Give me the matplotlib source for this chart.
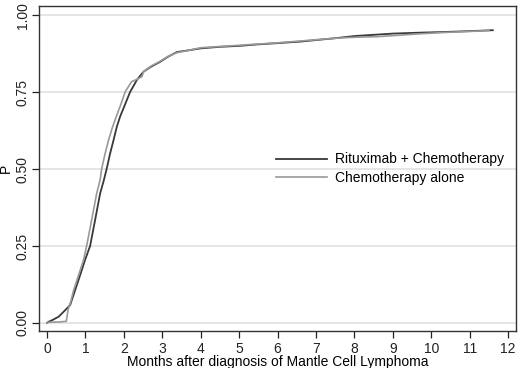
import matplotlib
matplotlib.use("Agg")
import matplotlib.pyplot as plt

# cumulative probability
rc_months = [0, 0.03, 0.15, 0.3, 0.47, 0.6, 0.73, 0.86, 0.99, 1.12, 1.25, 1.38,
             1.47, 1.55, 1.64, 1.73, 1.81, 1.9, 2.03, 2.16, 2.34, 2.51, 2.7, 2.94,
             3.15, 3.38, 3.7, 4.0, 4.5, 5.0, 5.5, 6.0, 6.6, 7.0, 7.5, 8.0, 8.5,
             9.0, 9.7, 10.3, 11.0, 11.6]
rc_p = [0, 0.003, 0.01, 0.02, 0.041, 0.058, 0.106, 0.155, 0.205, 0.25, 0.334, 0.42,
        0.46, 0.50, 0.55, 0.594, 0.635, 0.67, 0.71, 0.75, 0.79, 0.816, 0.832, 0.848,
        0.865, 0.88, 0.886, 0.892, 0.897, 0.90, 0.905, 0.909, 0.914, 0.919, 0.925, 0.932, 0.936,
        0.94, 0.943, 0.945, 0.948, 0.951]

chemo_months = [0, 0.05, 0.3, 0.5, 0.55, 0.62, 0.69, 0.82, 0.95, 1.03, 1.16, 1.29,
                1.38, 1.42, 1.51, 1.6, 1.7, 1.8, 1.92, 2.03, 2.2, 2.35, 2.47, 2.51,
                2.7, 2.94, 3.15, 3.38, 3.7, 4.0, 4.5, 5.0, 5.5, 6.0, 6.5, 7.0, 7.5,
                8.0, 8.6, 9.2, 9.8, 10.4, 11.0, 11.5]
chemo_p = [0, 0.002, 0.003, 0.005, 0.045, 0.07, 0.106, 0.155, 0.205, 0.25, 0.334, 0.42,
           0.464, 0.50, 0.55, 0.594, 0.635, 0.67, 0.71, 0.75, 0.784, 0.792, 0.80, 0.816,
           0.834, 0.85, 0.866, 0.878, 0.886, 0.894, 0.898, 0.902, 0.906, 0.91, 0.915, 0.92, 0.925,
           0.928, 0.93, 0.935, 0.94, 0.944, 0.947, 0.95]

labels = ["Rituximab + Chemotherapy", "Chemotherapy alone"]
x_ticks = list(range(13))
y_ticks = [0, 0.25, 0.5, 0.75, 1.0]

plt.rcParams["font.family"] = ["Liberation Sans", "DejaVu Sans"]

fig = plt.figure(figsize=(5.2, 3.68), dpi=100)
ax = fig.add_axes([0.075, 0.1, 0.917, 0.884])

for yv in y_ticks:
    ax.axhline(yv, color="#e3e3e3", lw=1.3, zorder=0)

ax.plot(rc_months, rc_p, color="#383838", lw=1.3, label=labels[0])
ax.plot(chemo_months, chemo_p, color="#999999", lw=1.2, label=labels[1])

ax.set_xlim(-0.21, 12.2)
ax.set_ylim(-0.027, 1.03)
ax.set_xticks(x_ticks)
ax.set_yticks(y_ticks)
ax.set_yticklabels([f"{v:.2f}" for v in y_ticks], rotation=90, va="center")
ax.tick_params(labelsize=10, colors="#222222", length=5, width=0.9)
ax.tick_params(axis="x", pad=3)
ax.tick_params(axis="y", pad=1.5)
for s in ax.spines.values():
    s.set_color("#333333")
    s.set_linewidth(1.0)

ax.set_xlabel("Months after diagnosis of Mantle Cell Lymphoma", fontsize=10, labelpad=-1)
ax.set_ylabel("P", fontsize=10, labelpad=2)

ax.legend(loc="center left", bbox_to_anchor=(0.47, 0.5), frameon=False, fontsize=10,
          handlelength=3.7, handletextpad=0.6, labelspacing=0.3)

fig.savefig("out.png", dpi=100)
